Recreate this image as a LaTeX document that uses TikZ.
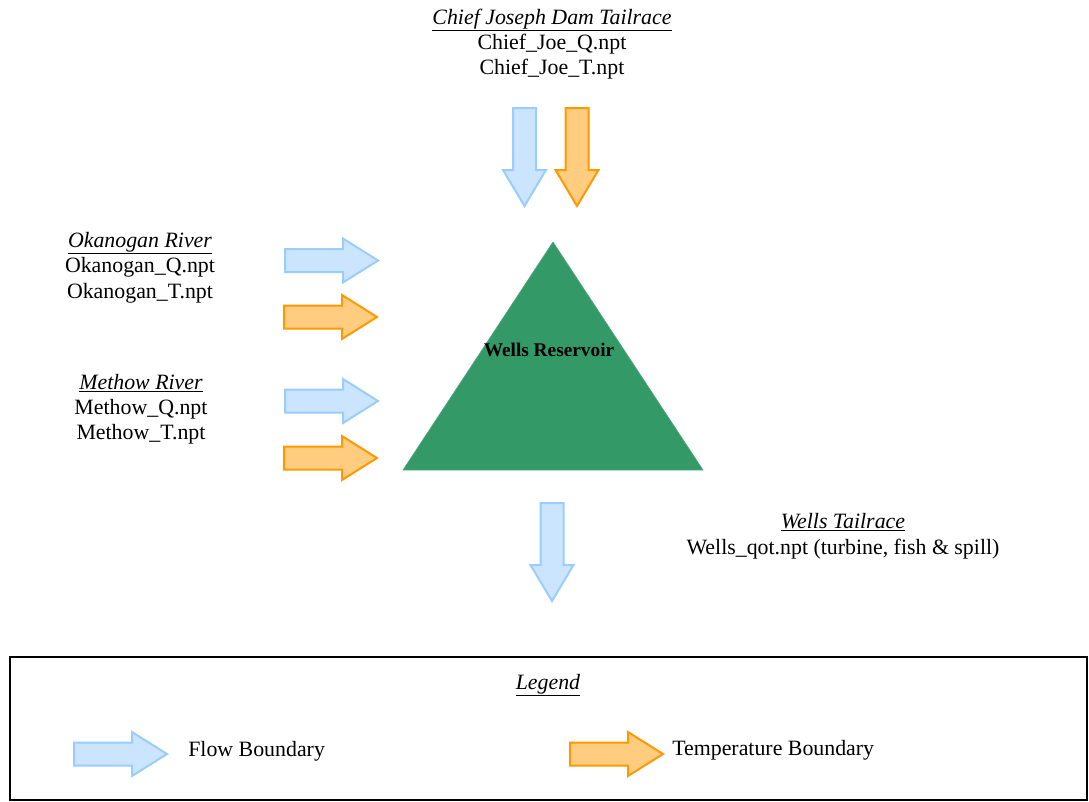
\documentclass[tikz,border=0pt]{standalone}
\usepackage{fontspec}
\setmainfont{Liberation Serif}
\definecolor{flowfill}{HTML}{CCE5FF}
\definecolor{flowline}{HTML}{99CCFF}
\definecolor{tempfill}{HTML}{FFCC80}
\definecolor{templine}{HTML}{FF9900}
\definecolor{resgreen}{HTML}{339966}
\newcommand\rightblock[4]{% style, tail x, center y, name
  \path[#1] (#2,#3-11.5) coordinate (#4-t) -- (#2+58,#3-11.5) -- (#2+58,#3-22) -- (#2+93,#3) coordinate (#4-tip) -- (#2+58,#3+22) -- (#2+58,#3+11.5) -- (#2,#3+11.5) -- cycle;}
\newcommand\downblock[4]{% style, center x, top y, name
  \path[#1] (#2-11.5,#3) coordinate (#4-t) -- (#2+11.5,#3) -- (#2+11.5,#3+62) -- (#2+21.5,#3+62) -- (#2,#3+98) coordinate (#4-tip) -- (#2-21.5,#3+62) -- (#2-11.5,#3+62) -- cycle;}
\begin{document}
\begin{tikzpicture}[x=0.75pt,y=-0.75pt,
  flowarrow/.style={fill=flowfill,draw=flowline,line width=1.5pt,line join=miter},
  temparrow/.style={fill=tempfill,draw=templine,line width=1.5pt,line join=miter},
  txt/.style={anchor=base,font=\fontsize{16.4}{19}\selectfont,inner sep=0pt},
  ltxt/.style={anchor=base west,font=\fontsize{16.4}{19}\selectfont,inner sep=0pt}]
\useasboundingbox (0,0) rectangle (1089,801);
% reservoir
\path[fill=resgreen,draw=resgreen!85!white,line width=0.5pt] (553,242) coordinate (apex) -- (703,470) -- (403,470) -- cycle;
\node[anchor=base,font=\fontsize{14.5}{17}\bfseries\selectfont,inner sep=0pt] (res) at (549,356) {Wells Reservoir};
% Chief Joseph
\node[txt] (cj) at (552,24) {\underline{\textit{Chief Joseph Dam Tailrace}}};
\node[txt] (cjqt) at (552,49) {Chief\_Joe\_Q.npt};
\node[txt] (cjtt) at (552,74) {Chief\_Joe\_T.npt};
\downblock{flowarrow}{524.5}{108}{cjq}
\downblock{temparrow}{577}{108}{cjt}
% Okanogan
\node[txt] (ok) at (140,247) {\underline{\textit{Okanogan River}}};
\node[txt] (okqt) at (140,272) {Okanogan\_Q.npt};
\node[txt] (oktt) at (140,298) {Okanogan\_T.npt};
\rightblock{flowarrow}{285}{260.5}{okq}
\rightblock{temparrow}{284}{317}{okt}
% Methow
\node[txt] (me) at (141,389) {\underline{\textit{Methow River}}};
\node[txt] (meqt) at (141,414) {Methow\_Q.npt};
\node[txt] (mett) at (141,439) {Methow\_T.npt};
\rightblock{flowarrow}{285}{401}{meq}
\rightblock{temparrow}{284}{458}{met}
% Wells tailrace
\downblock{flowarrow}{552}{503}{wt}
\node[txt] (wtl) at (843,528) {\underline{\textit{Wells Tailrace}}};
\node[txt] (wtq) at (843,554) {Wells\_qot.npt (turbine, fish \& spill)};
% legend
\draw[line width=1pt] (10,657) rectangle (1087,800);
\node[txt] (leg) at (548,689) {\underline{\textit{Legend}}};
\rightblock{flowarrow}{74}{754}{lf}
\node[ltxt] (lft) at (188,756) {Flow Boundary};
\rightblock{temparrow}{570}{754}{lt}
\node[ltxt] (ltt) at (672,755) {Temperature Boundary};
\end{tikzpicture}
\end{document}
